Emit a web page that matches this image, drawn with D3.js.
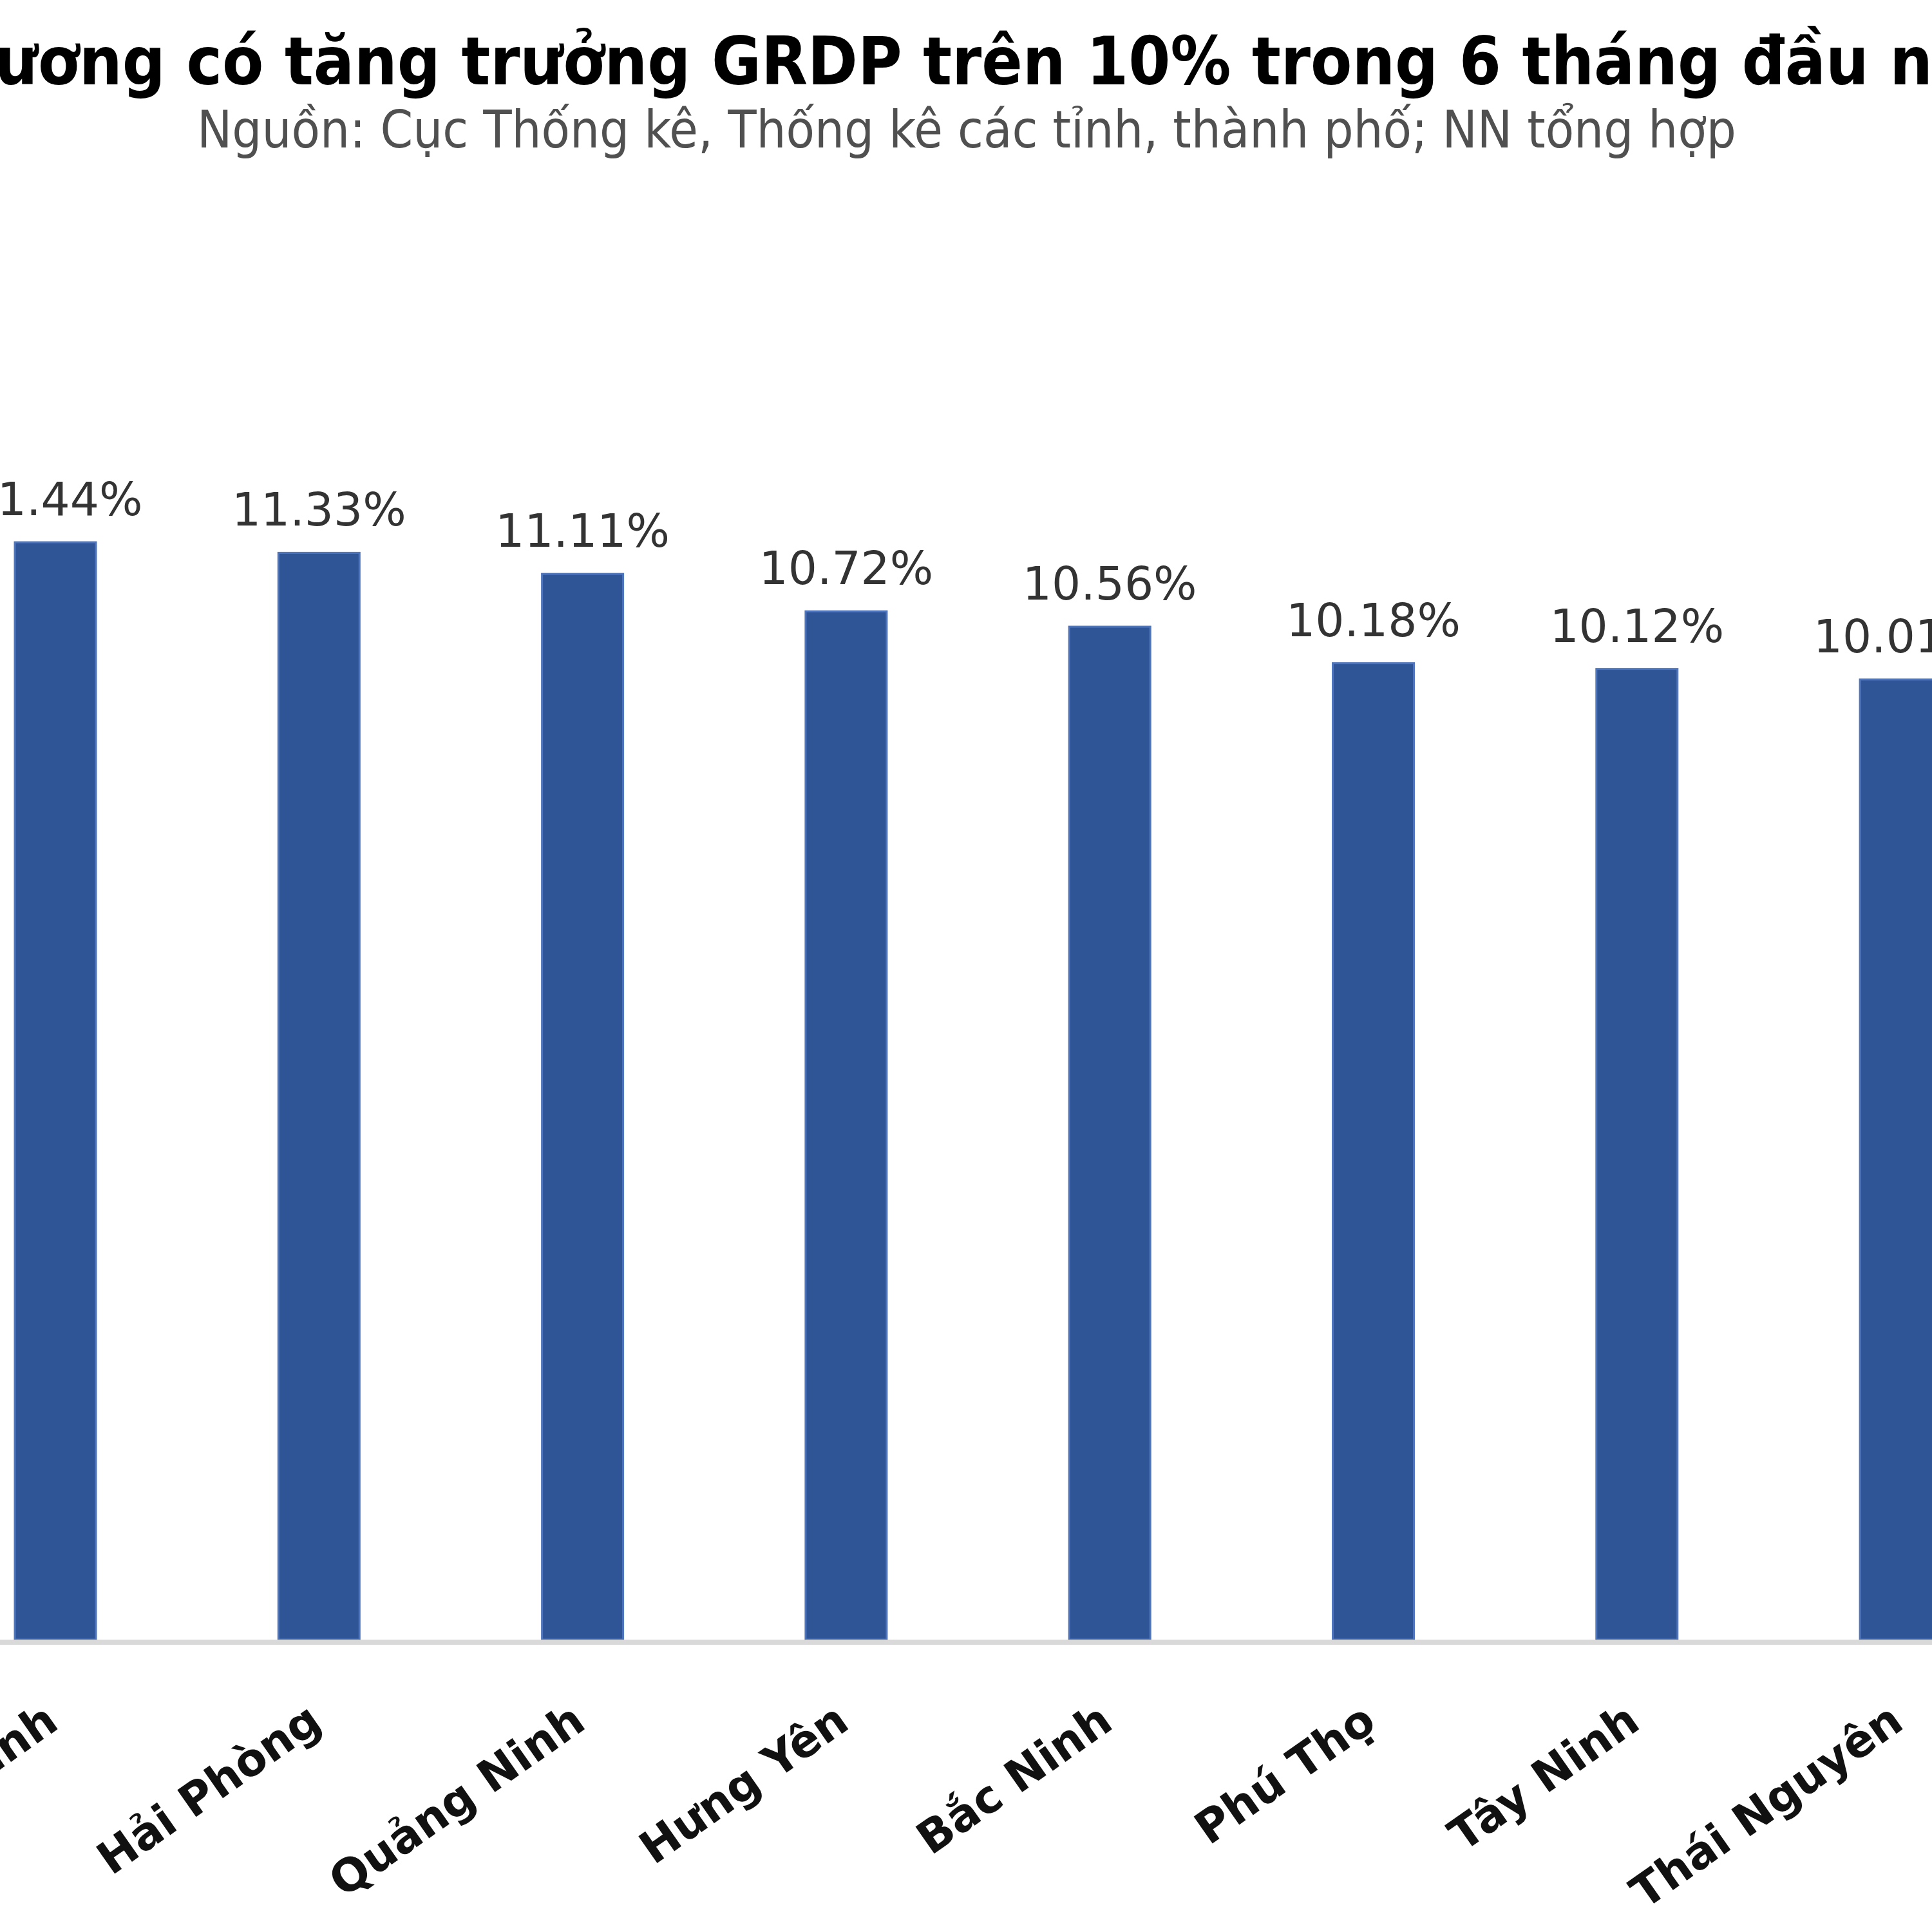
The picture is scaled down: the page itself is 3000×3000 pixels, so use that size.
<!DOCTYPE html>
<html><head><meta charset="utf-8">
<script src="https://cdn.jsdelivr.net/npm/d3@7"></script>
<style>body{margin:0;background:#fff}</style>
</head><body>
<svg id="c" width="3000" height="3000" xmlns="http://www.w3.org/2000/svg"></svg>
<script>
// ---- data ----
const categories = ["Ninh Bình", "Hải Phòng", "Quảng Ninh", "Hưng Yên", "Bắc Ninh", "Phú Thọ", "Tây Ninh", "Thái Nguyên"];
const values = [11.44, 11.33, 11.11, 10.72, 10.56, 10.18, 10.12, 10.01];
const yDomain = [0, 14];
const titleText = "Các địa phương có tăng trưởng GRDP trên 10% trong 6 tháng đầu năm 2025";
const subtitleText = "Nguồn: Cục Thống kê, Thống kê các tỉnh, thành phố; NN tổng hợp";

// ---- layout ----
const W = 3000, H = 3000;
const baseY = 2546;
const step = 409.3, pad = 1 - 126 / step;
const x0 = 23 - (pad / 2) * step;
const svg = d3.select("#c");
svg.append("rect").attr("width", W).attr("height", H).attr("fill", "#fff");

const x = d3.scaleBand().domain(categories)
  .range([x0, x0 + step * categories.length])
  .paddingInner(pad).paddingOuter(pad / 2);
const y = d3.scaleLinear().domain(yDomain).range([baseY, baseY - 148.95 * yDomain[1]]);

// title
const title = svg.append("text").text(titleText)
  .attr("font-family", "'DejaVu Sans Condensed', 'DejaVu Sans', sans-serif")
  .attr("font-weight", "bold").attr("font-size", 100).attr("fill", "#000")
  .attr("y", 131);
{
  const n = title.node();
  const s = titleText.indexOf("ương"), e = titleText.indexOf("năm");
  const w = n.getSubStringLength(s, e - s);
  const fs = 100 * (2943 / w);
  title.attr("font-size", fs);
  const pre = n.getSubStringLength(0, s);
  title.attr("x", -8 - pre);
}
// subtitle
const sub = svg.append("text").text(subtitleText)
  .attr("font-family", "'DejaVu Sans Condensed', 'DejaVu Sans', sans-serif")
  .attr("font-size", 80).attr("fill", "#505050")
  .attr("y", 229);
{
  const w = sub.node().getComputedTextLength();
  sub.attr("font-size", 80 * 2390 / w).attr("x", 306);
}

// bars
const g = svg.append("g");
g.selectAll("rect.bar").data(values).join("rect").attr("class", "bar")
  .attr("x", (d, i) => x(categories[i]))
  .attr("width", x.bandwidth())
  .attr("y", d => y(d))
  .attr("height", d => y(0) - y(d))
  .attr("fill", "#2f5597")
  .attr("stroke", "#4f76bd").attr("stroke-width", 3);

// axis
const axis = svg.append("g").attr("transform", `translate(0,${baseY + 4})`)
  .call(d3.axisBottom(x).tickSize(0).tickFormat(""));
axis.select(".domain").attr("stroke", "#d9d9d9").attr("stroke-width", 8)
  .attr("d", `M0,0H${W}`);

// data labels
g.selectAll("text.val").data(values).join("text").attr("class", "val")
  .attr("x", (d, i) => x(categories[i]) + x.bandwidth() / 2)
  .attr("y", d => y(d) - 42)
  .attr("text-anchor", "middle")
  .attr("font-family", "'DejaVu Sans', sans-serif")
  .attr("font-size", 71).attr("fill", "#333")
  .text(d => d.toFixed(2) + "%");

// category labels
g.selectAll("text.cat").data(categories).join("text").attr("class", "cat")
  .attr("transform", d => `translate(${x(d) + x.bandwidth() / 2 + 8},${2682}) rotate(-35)`)
  .attr("text-anchor", "end")
  .attr("font-family", "'DejaVu Sans', sans-serif")
  .attr("font-weight", "bold")
  .attr("font-size", 70).attr("fill", "#111")
  .text(d => d);
</script>
</body></html>
